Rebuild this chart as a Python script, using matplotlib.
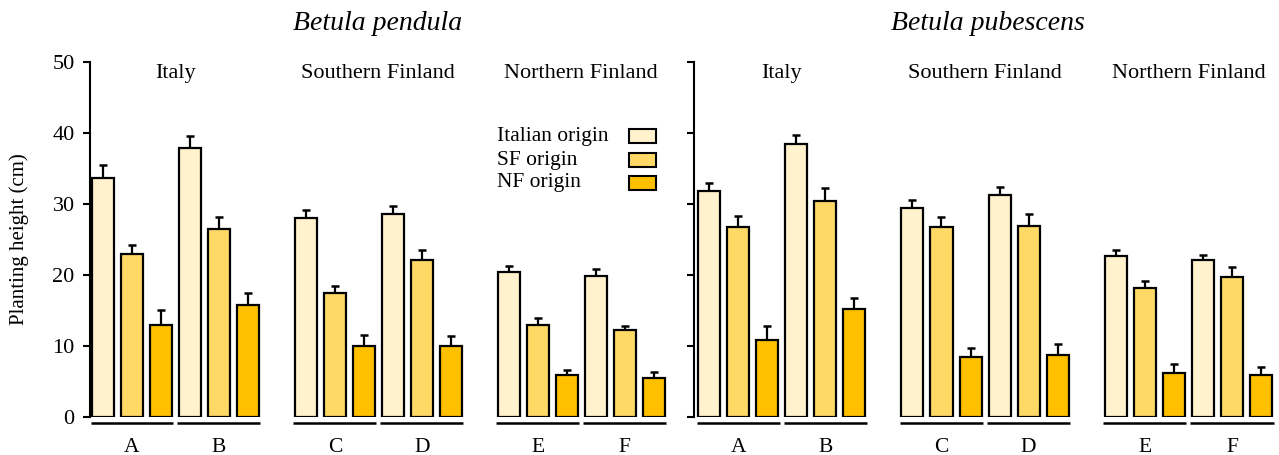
import matplotlib
matplotlib.use("Agg")
import matplotlib.pyplot as plt
import matplotlib.patches as patches
import numpy as np

plt.rcParams['font.family'] = ['Liberation Serif', 'DejaVu Serif']

species = ['Betula pendula', 'Betula pubescens']
sites = ['Italy', 'Southern Finland', 'Northern Finland']
groups = ['A', 'B', 'C', 'D', 'E', 'F']
origins = ['Italian origin', 'SF origin', 'NF origin']
colors = ['#FFF2CC', '#FFD966', '#FFC000']

# mean heights per group (rows A..F), columns Italian / SF / NF origin
pendula_mean = [[33.7, 22.9, 13.0],
                [37.8, 26.4, 15.7],
                [28.0, 17.4, 10.0],
                [28.5, 22.1, 10.0],
                [20.4, 12.9, 5.9],
                [19.9, 12.3, 5.5]]
pendula_err = [[1.7, 1.3, 2.0],
               [1.8, 1.7, 1.7],
               [1.2, 1.1, 1.5],
               [1.2, 1.4, 1.4],
               [0.8, 1.1, 0.7],
               [0.9, 0.5, 0.8]]
pubescens_mean = [[31.8, 26.8, 10.8],
                  [38.4, 30.4, 15.2],
                  [29.4, 26.7, 8.4],
                  [31.2, 26.9, 8.7],
                  [22.6, 18.1, 6.2],
                  [22.1, 19.7, 5.9]]
pubescens_err = [[1.2, 1.5, 2.0],
                 [1.3, 1.8, 1.5],
                 [1.1, 1.4, 1.3],
                 [1.2, 1.6, 1.6],
                 [0.9, 1.1, 1.3],
                 [0.7, 1.4, 1.1]]

bar_w = 0.76
W, H = 1279, 455


def bar_positions(n_groups):
    # three bars per group, two groups per site, one empty slot between sites
    pos = []
    for g in range(n_groups):
        site = g // 2
        start = site * 7 + (g % 2) * 3
        pos.append([start, start + 1, start + 2])
    return np.array(pos)


def draw_panel(ax, means, errs, show_labels):
    means = np.array(means)
    errs = np.array(errs)
    pos = bar_positions(len(groups))
    for k in range(3):
        ax.bar(pos[:, k], means[:, k], width=bar_w, color=colors[k],
               edgecolor='black', linewidth=1.6, zorder=2)
        ax.errorbar(pos[:, k], means[:, k],
                    yerr=[np.zeros(len(groups)), errs[:, k]],
                    fmt='none', ecolor='black', elinewidth=1.6,
                    capsize=3, capthick=1.8, zorder=1)
    for g, name in enumerate(groups):
        x0 = pos[g, 0] - bar_w / 2 - 0.05
        x1 = pos[g, 2] + bar_w / 2 + 0.05
        ax.plot([x0, x1], [-0.9, -0.9], color='black', lw=1.8,
                clip_on=False, solid_capstyle='butt')
        ax.text(pos[g, 1], -4.3, name, ha='center', va='center', fontsize=15.5)
    for s, name in enumerate(sites):
        xc = (pos[2 * s, 0] + pos[2 * s + 1, 2]) / 2
        ax.text(xc, 48.3, name, ha='center', va='center', fontsize=16)

    ax.set_ylim(0, 50)
    ax.set_yticks(range(0, 51, 10))
    for side in ['top', 'right', 'bottom']:
        ax.spines[side].set_visible(False)
    ax.spines['left'].set_linewidth(1.5)
    ax.tick_params(axis='y', direction='out', length=5, width=1.5,
                   labelsize=16, pad=6)
    ax.tick_params(axis='x', length=0, labelbottom=False)
    if not show_labels:
        ax.set_yticklabels([])


fig = plt.figure(figsize=(W / 100, H / 100), dpi=100)
ax1 = fig.add_axes([90 / W, 38 / H, 578 / W, 355.3 / H])
ax2 = fig.add_axes([694 / W, 38 / H, 583 / W, 355.3 / H])

draw_panel(ax1, pendula_mean, pendula_err, True)
draw_panel(ax2, pubescens_mean, pubescens_err, False)
ax1.set_xlim(-0.45, 19.5)
ax2.set_xlim(-0.52, 19.55)
ax1.set_ylabel('Planting height (cm)', fontsize=15)
ax1.yaxis.set_label_coords(-0.106, 0.5)

fig.text(378 / W, 1 - 23 / H, species[0], ha='center', va='center',
         fontsize=20, style='italic')
fig.text(988 / W, 1 - 23 / H, species[1], ha='center', va='center',
         fontsize=20, style='italic')

# origin key: labels on the left, swatches on the right
key_rows = [136, 160, 183]
for name, col, yrow in zip(origins, colors, key_rows):
    fig.text(497 / W, 1 - yrow / H, name, ha='left', va='center',
             fontsize=15.5)
    fig.add_artist(patches.Rectangle((629 / W, 1 - (yrow + 7) / H),
                                     27 / W, 14 / H,
                                     transform=fig.transFigure,
                                     facecolor=col, edgecolor='black',
                                     linewidth=1.5))

fig.savefig('out.png', dpi=100)
